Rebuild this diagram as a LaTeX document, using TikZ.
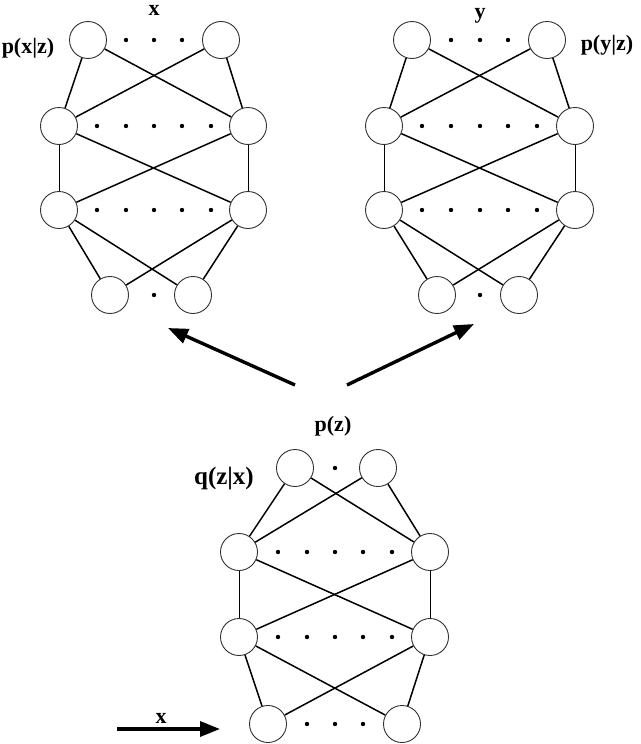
\documentclass[tikz,border=0pt]{standalone}
\usepackage{fontspec}
\setmainfont{Liberation Serif}
\usetikzlibrary{arrows.meta}
\begin{document}
\begin{tikzpicture}[x=1pt,y=-1pt,
  unit/.style={circle,draw=black!80,line width=0.9pt,minimum size=37pt,inner sep=0pt,fill=white},
  link/.style={line width=1.5pt},
  vlink/.style={line width=0.9pt},
  dotmark/.style={fill=black},
  lbl/.style={font=\fontsize{22}{26}\selectfont\bfseries,inner sep=0pt,anchor=base},
  bigarrow/.style={line width=3.4pt,-{Triangle[length=20pt,width=15pt]}}
]
\useasboundingbox (0,0) rectangle (640,744);

% ---------- left network ----------
\node[unit] (L11) at (88,40) {};
\node[unit] (L12) at (221,40) {};
\node[unit] (L21) at (59,126) {};
\node[unit] (L22) at (248,126) {};
\node[unit] (L31) at (59,210) {};
\node[unit] (L32) at (248,210) {};
\node[unit] (L41) at (110,295) {};
\node[unit] (L42) at (193,295) {};
% ---------- right network ----------
\node[unit] (R11) at (412,40) {};
\node[unit] (R12) at (547,40) {};
\node[unit] (R21) at (384,126) {};
\node[unit] (R22) at (575,126) {};
\node[unit] (R31) at (384,210) {};
\node[unit] (R32) at (575,210) {};
\node[unit] (R41) at (437,295) {};
\node[unit] (R42) at (519,295) {};
% ---------- bottom network ----------
\node[unit] (B11) at (295,468) {};
\node[unit] (B12) at (378,468) {};
\node[unit] (B21) at (239,552) {};
\node[unit] (B22) at (430,552) {};
\node[unit] (B31) at (239,637) {};
\node[unit] (B32) at (430,637) {};
\node[unit] (B41) at (268,724) {};
\node[unit] (B42) at (402,724) {};

\foreach \n in {L,R,B}{
  \draw[link] (\n11) -- (\n21);
  \draw[link] (\n11) -- (\n22);
  \draw[link] (\n12) -- (\n21);
  \draw[link] (\n12) -- (\n22);
  \draw[vlink] (\n21) -- (\n31);
  \draw[link] (\n21) -- (\n32);
  \draw[link] (\n22) -- (\n31);
  \draw[vlink] (\n22) -- (\n32);
  \draw[link] (\n31) -- (\n41);
  \draw[link] (\n31) -- (\n42);
  \draw[link] (\n32) -- (\n41);
  \draw[link] (\n32) -- (\n42);
}

% dots
\foreach \x in {126,154,182} \fill[dotmark] (\x,40) circle (2.2);
\foreach \x in {97,126,154,182,211} {\fill[dotmark] (\x,126) circle (2.2); \fill[dotmark] (\x,210) circle (2.2);}
\fill[dotmark] (154,295) circle (2.2);
\foreach \x in {451,480,508} \fill[dotmark] (\x,40) circle (2.2);
\foreach \x in {422,451,480,508,537} {\fill[dotmark] (\x,126) circle (2.2); \fill[dotmark] (\x,210) circle (2.2);}
\fill[dotmark] (480,295) circle (2.2);
\fill[dotmark] (335,468) circle (2.2);
\foreach \x in {278,307,335,363,392} {\fill[dotmark] (\x,552) circle (2.2); \fill[dotmark] (\x,637) circle (2.2);}
\foreach \x in {307,335,363} \fill[dotmark] (\x,724) circle (2.2);

% labels
\node[lbl] (tx) at (154,16) {x};
\node[lbl] (ty) at (480,18) {y};
\node[lbl] (pxz) at (28,53) {p(x|z)};
\node[lbl] (pyz) at (607,50) {p(y|z)};
\node[lbl] (pz) at (333,431) {p(z)};
\node[lbl,font=\fontsize{25}{29}\selectfont\bfseries] (qzx) at (224,484) {q(z|x)};
\node[lbl] (bx) at (161,723) {x};

% arrows
\coordinate (a1s) at (295,385);
\coordinate (a1e) at (168,328);
\coordinate (a2s) at (347,385);
\coordinate (a2e) at (474,324);
\coordinate (a3s) at (117,729);
\coordinate (a3e) at (220,729);
\draw[bigarrow] (a1s) -- (a1e);
\draw[bigarrow] (a2s) -- (a2e);
\draw[bigarrow] (a3s) -- (a3e);
\end{tikzpicture}
\end{document}
